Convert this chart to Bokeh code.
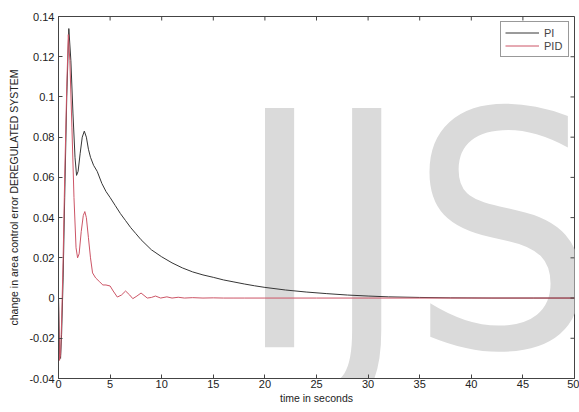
from bokeh.plotting import figure
from bokeh.models import FixedTicker, Label, Range1d, Legend, LegendItem
from bokeh.embed import file_html
from bokeh.resources import INLINE

# ---- data ----
t_pi = [0, 0.1, 0.2, 0.3, 0.45, 0.6, 0.8, 1.0, 1.2, 1.4, 1.6, 1.75, 1.9, 2.1, 2.3, 2.5,
        2.7, 2.9, 3.1, 3.4, 3.75, 4.2, 4.6, 5.0, 5.5, 6.0, 6.5, 7.0, 7.5, 8, 9, 10, 11,
        12, 13, 14, 15, 16, 17, 18, 19, 20, 22, 24, 26, 28, 30, 32, 35, 38, 42, 46, 50]
pi_vals = [0, -0.028, -0.030, -0.018, 0.010, 0.050, 0.100, 0.134, 0.118, 0.092, 0.070,
           0.061, 0.063, 0.072, 0.080, 0.083, 0.080, 0.074, 0.070, 0.066, 0.063, 0.057,
           0.053, 0.050, 0.046, 0.042, 0.0385, 0.035, 0.032, 0.029, 0.024, 0.0205,
           0.0175, 0.015, 0.013, 0.0115, 0.0103, 0.009, 0.0080, 0.0070, 0.0061, 0.0053,
           0.0040, 0.0030, 0.0022, 0.0015, 0.0010, 0.0006, 0.0003, 0.0001, 0.0, 0.0, 0.0]

t_pid = [0, 0.1, 0.2, 0.3, 0.45, 0.6, 0.8, 0.95, 1.1, 1.3, 1.5, 1.7, 1.85, 2.0, 2.2, 2.4,
         2.55, 2.7, 2.9, 3.1, 3.3, 3.6, 4.0, 4.3, 4.6, 5.0, 5.3, 5.7, 6.1, 6.5, 6.9, 7.2,
         7.6, 8.0, 8.6, 9.0, 9.4, 9.9, 10.5, 11.0, 11.6, 12.2, 13, 14, 15, 16, 17, 18,
         20, 25, 30, 40, 50]
pid_vals = [0, -0.031, -0.028, -0.012, 0.02, 0.06, 0.105, 0.131, 0.118, 0.085, 0.050,
            0.025, 0.020, 0.022, 0.033, 0.041, 0.043, 0.040, 0.030, 0.020, 0.0125,
            0.010, 0.008, 0.0065, 0.0065, 0.006, 0.0035, 0.0005, 0.0015, 0.0035, 0.0015,
            -0.0003, 0.0010, 0.0025, 0.0, 0.0003, 0.001, 0.0, 0.0006, 0.0, 0.0004, 0.0,
            0.0002, 0.0, 0.0001, 0.0, 0.0, 0.0, 0.0, 0.0, 0.0, 0.0, 0.0]

x_ticks = [0, 5, 10, 15, 20, 25, 30, 35, 40, 45, 50]
y_ticks = [-0.04, -0.02, 0, 0.02, 0.04, 0.06, 0.08, 0.1, 0.12, 0.14]
y_tick_labels = ["-0.04", "-0.02", "0", "0.02", "0.04", "0.06", "0.08", "0.1", "0.12", "0.14"]

series_names = ["PI", "PID"]
x_title = "time in seconds"
y_title = "change in area control error DEREGULATED SYSTEM"
watermark = "IJS"

FONT = "Liberation Sans"
AX = "#444444"

W, H = 579, 410
ML, MR, MT, MB = 58, 5, 16, 32
x0, x1 = x_ticks[0], x_ticks[-1]
y0, y1 = y_ticks[0], y_ticks[-1]

p = figure(width=W, height=H, output_backend="svg", toolbar_location=None,
           x_range=Range1d(x0, x1), y_range=Range1d(y0, y1),
           min_border_left=ML, min_border_top=MT, min_border_right=MR,
           min_border_bottom=MB)
p.background_fill_color = "white"
p.border_fill_color = "white"
p.outline_line_color = AX
p.xgrid.visible = False
p.ygrid.visible = False

wm = Label(x=17.2, y=0.032, text=watermark, text_font="DejaVu Sans Condensed",
           text_font_size="328px", text_color="#dadada", text_baseline="alphabetic",
           level="underlay")
p.add_layout(wm)

r_pi = p.line(t_pi, pi_vals, line_color="#363636", line_width=1)
r_pid = p.line(t_pid, pid_vals, line_color="#cc5566", line_width=1)

# inward ticks on the top and right frame edges (MATLAB box style)
frame_w = W - ML - MR
frame_h = H - MT - MB
tick_px = 4
dy = tick_px * (y1 - y0) / frame_h
dx = tick_px * (x1 - x0) / frame_w
p.segment(x0=x_ticks, y0=[y1] * len(x_ticks), x1=x_ticks, y1=[y1 - dy] * len(x_ticks),
          line_color=AX, line_width=1)
p.segment(x0=[x1] * len(y_ticks), y0=y_ticks, x1=[x1 - dx] * len(y_ticks), y1=y_ticks,
          line_color=AX, line_width=1)

def style_axis(ax):
    ax.axis_line_color = AX
    ax.major_tick_line_color = AX
    ax.major_tick_in = tick_px
    ax.major_tick_out = 0
    ax.minor_tick_line_color = None
    ax.major_label_text_font = FONT
    ax.major_label_text_font_size = "11px"
    ax.major_label_text_color = "#222222"
    ax.axis_label_text_font = FONT
    ax.axis_label_text_font_size = "10.5px"
    ax.axis_label_text_font_style = "normal"
    ax.axis_label_text_color = "#222222"

xa = p.xaxis[0]
xa.ticker = FixedTicker(ticks=x_ticks)
xa.axis_label = x_title
xa.major_label_standoff = 1
xa.axis_label_standoff = 1
style_axis(xa)

ya = p.yaxis[0]
ya.ticker = FixedTicker(ticks=y_ticks)
ya.major_label_overrides = {v: s for v, s in zip(y_ticks, y_tick_labels)}
ya.axis_label = y_title
ya.major_label_standoff = 4
ya.axis_label_standoff = 6
style_axis(ya)

legend = Legend(items=[LegendItem(label=series_names[0], renderers=[r_pi]),
                       LegendItem(label=series_names[1], renderers=[r_pid])],
                location="top_right")
legend.margin = 5
legend.padding = 4
legend.spacing = 0
legend.glyph_width = 34
legend.glyph_height = 13
legend.label_height = 13
legend.label_standoff = 5
legend.label_text_font = FONT
legend.label_text_font_size = "11px"
legend.border_line_color = "#333333"
legend.background_fill_alpha = 1
p.add_layout(legend, "center")

open("out.html", "w").write(file_html(p, INLINE))
